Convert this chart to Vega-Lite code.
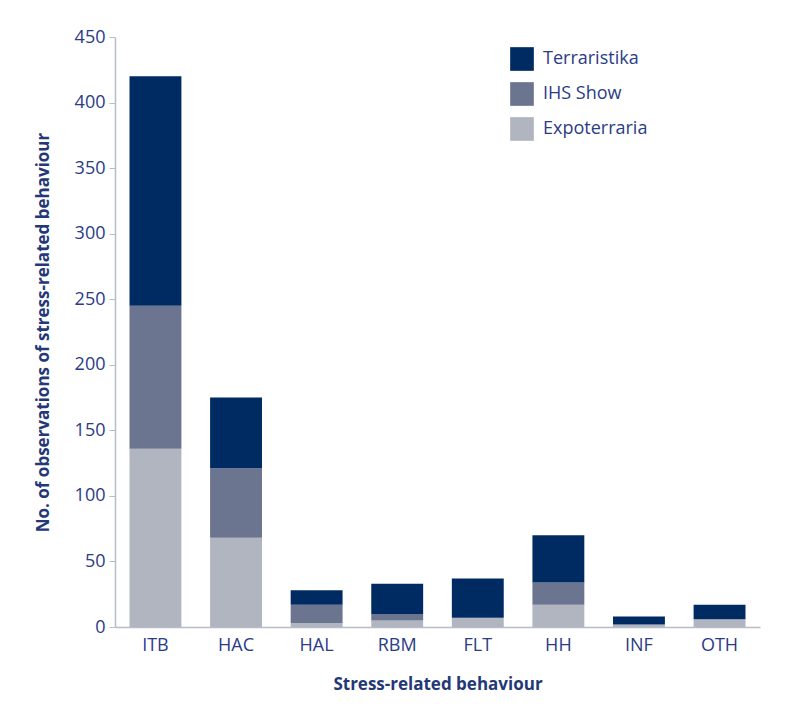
{
  "$schema": "https://vega.github.io/schema/vega-lite/v6.json",
  "width": 645,
  "height": 590,
  "autosize": "none",
  "padding": {"left": 115, "top": 37, "right": 30, "bottom": 77},
  "background": "white",
  "data": {
    "values": [
      {"behaviour": "ITB", "source": "Expoterraria", "count": 136},
      {"behaviour": "ITB", "source": "IHS Show", "count": 109},
      {"behaviour": "ITB", "source": "Terraristika", "count": 175},
      {"behaviour": "HAC", "source": "Expoterraria", "count": 68},
      {"behaviour": "HAC", "source": "IHS Show", "count": 53},
      {"behaviour": "HAC", "source": "Terraristika", "count": 54},
      {"behaviour": "HAL", "source": "Expoterraria", "count": 3},
      {"behaviour": "HAL", "source": "IHS Show", "count": 14},
      {"behaviour": "HAL", "source": "Terraristika", "count": 11},
      {"behaviour": "RBM", "source": "Expoterraria", "count": 5},
      {"behaviour": "RBM", "source": "IHS Show", "count": 5},
      {"behaviour": "RBM", "source": "Terraristika", "count": 23},
      {"behaviour": "FLT", "source": "Expoterraria", "count": 7},
      {"behaviour": "FLT", "source": "IHS Show", "count": 0},
      {"behaviour": "FLT", "source": "Terraristika", "count": 30},
      {"behaviour": "HH", "source": "Expoterraria", "count": 17},
      {"behaviour": "HH", "source": "IHS Show", "count": 17},
      {"behaviour": "HH", "source": "Terraristika", "count": 36},
      {"behaviour": "INF", "source": "Expoterraria", "count": 2},
      {"behaviour": "INF", "source": "IHS Show", "count": 0},
      {"behaviour": "INF", "source": "Terraristika", "count": 6},
      {"behaviour": "OTH", "source": "Expoterraria", "count": 6},
      {"behaviour": "OTH", "source": "IHS Show", "count": 0},
      {"behaviour": "OTH", "source": "Terraristika", "count": 11}
    ]
  },
  "mark": {"type": "bar"},
  "encoding": {
    "x": {
      "field": "behaviour",
      "type": "nominal",
      "sort": null,
      "scale": {"paddingInner": 0.356, "paddingOuter": 0.18},
      "axis": {
        "title": "Stress-related behaviour",
        "labelAngle": 0,
        "ticks": false,
        "labelPadding": 9,
        "titlePadding": 22
      }
    },
    "y": {
      "field": "count",
      "type": "quantitative",
      "stack": "zero",
      "scale": {"domain": [0, 450], "nice": false},
      "axis": {
        "title": "No. of observations of stress-related behaviour",
        "values": [0, 50, 100, 150, 200, 250, 300, 350, 400, 450],
        "grid": false,
        "tickSize": 6,
        "labelPadding": 4,
        "titlePadding": 22
      }
    },
    "color": {
      "field": "source",
      "type": "nominal",
      "scale": {
        "domain": ["Terraristika", "IHS Show", "Expoterraria"],
        "range": ["#002b62", "#6b7590", "#b0b5bf"]
      },
      "legend": {
        "title": null,
        "orient": "none",
        "legendX": 395,
        "legendY": 10,
        "symbolType": "square",
        "symbolSize": 560,
        "symbolStrokeWidth": 0,
        "symbolOpacity": 1,
        "labelFontSize": 18,
        "labelColor": "#2a3c86",
        "labelFont": "Open Sans",
        "labelOffset": 9,
        "rowPadding": 11
      }
    },
    "order": {"field": "source", "sort": "ascending"}
  },
  "config": {
    "view": {"stroke": null},
    "font": "Open Sans",
    "axis": {
      "domainColor": "#b8bcc6",
      "tickColor": "#b8bcc6",
      "labelColor": "#2a3c86",
      "titleColor": "#243878",
      "labelFont": "Open Sans",
      "titleFont": "Open Sans",
      "labelFontSize": 18,
      "titleFontSize": 17,
      "titleFontWeight": "bold",
      "domainWidth": 1.5
    }
  }
}
